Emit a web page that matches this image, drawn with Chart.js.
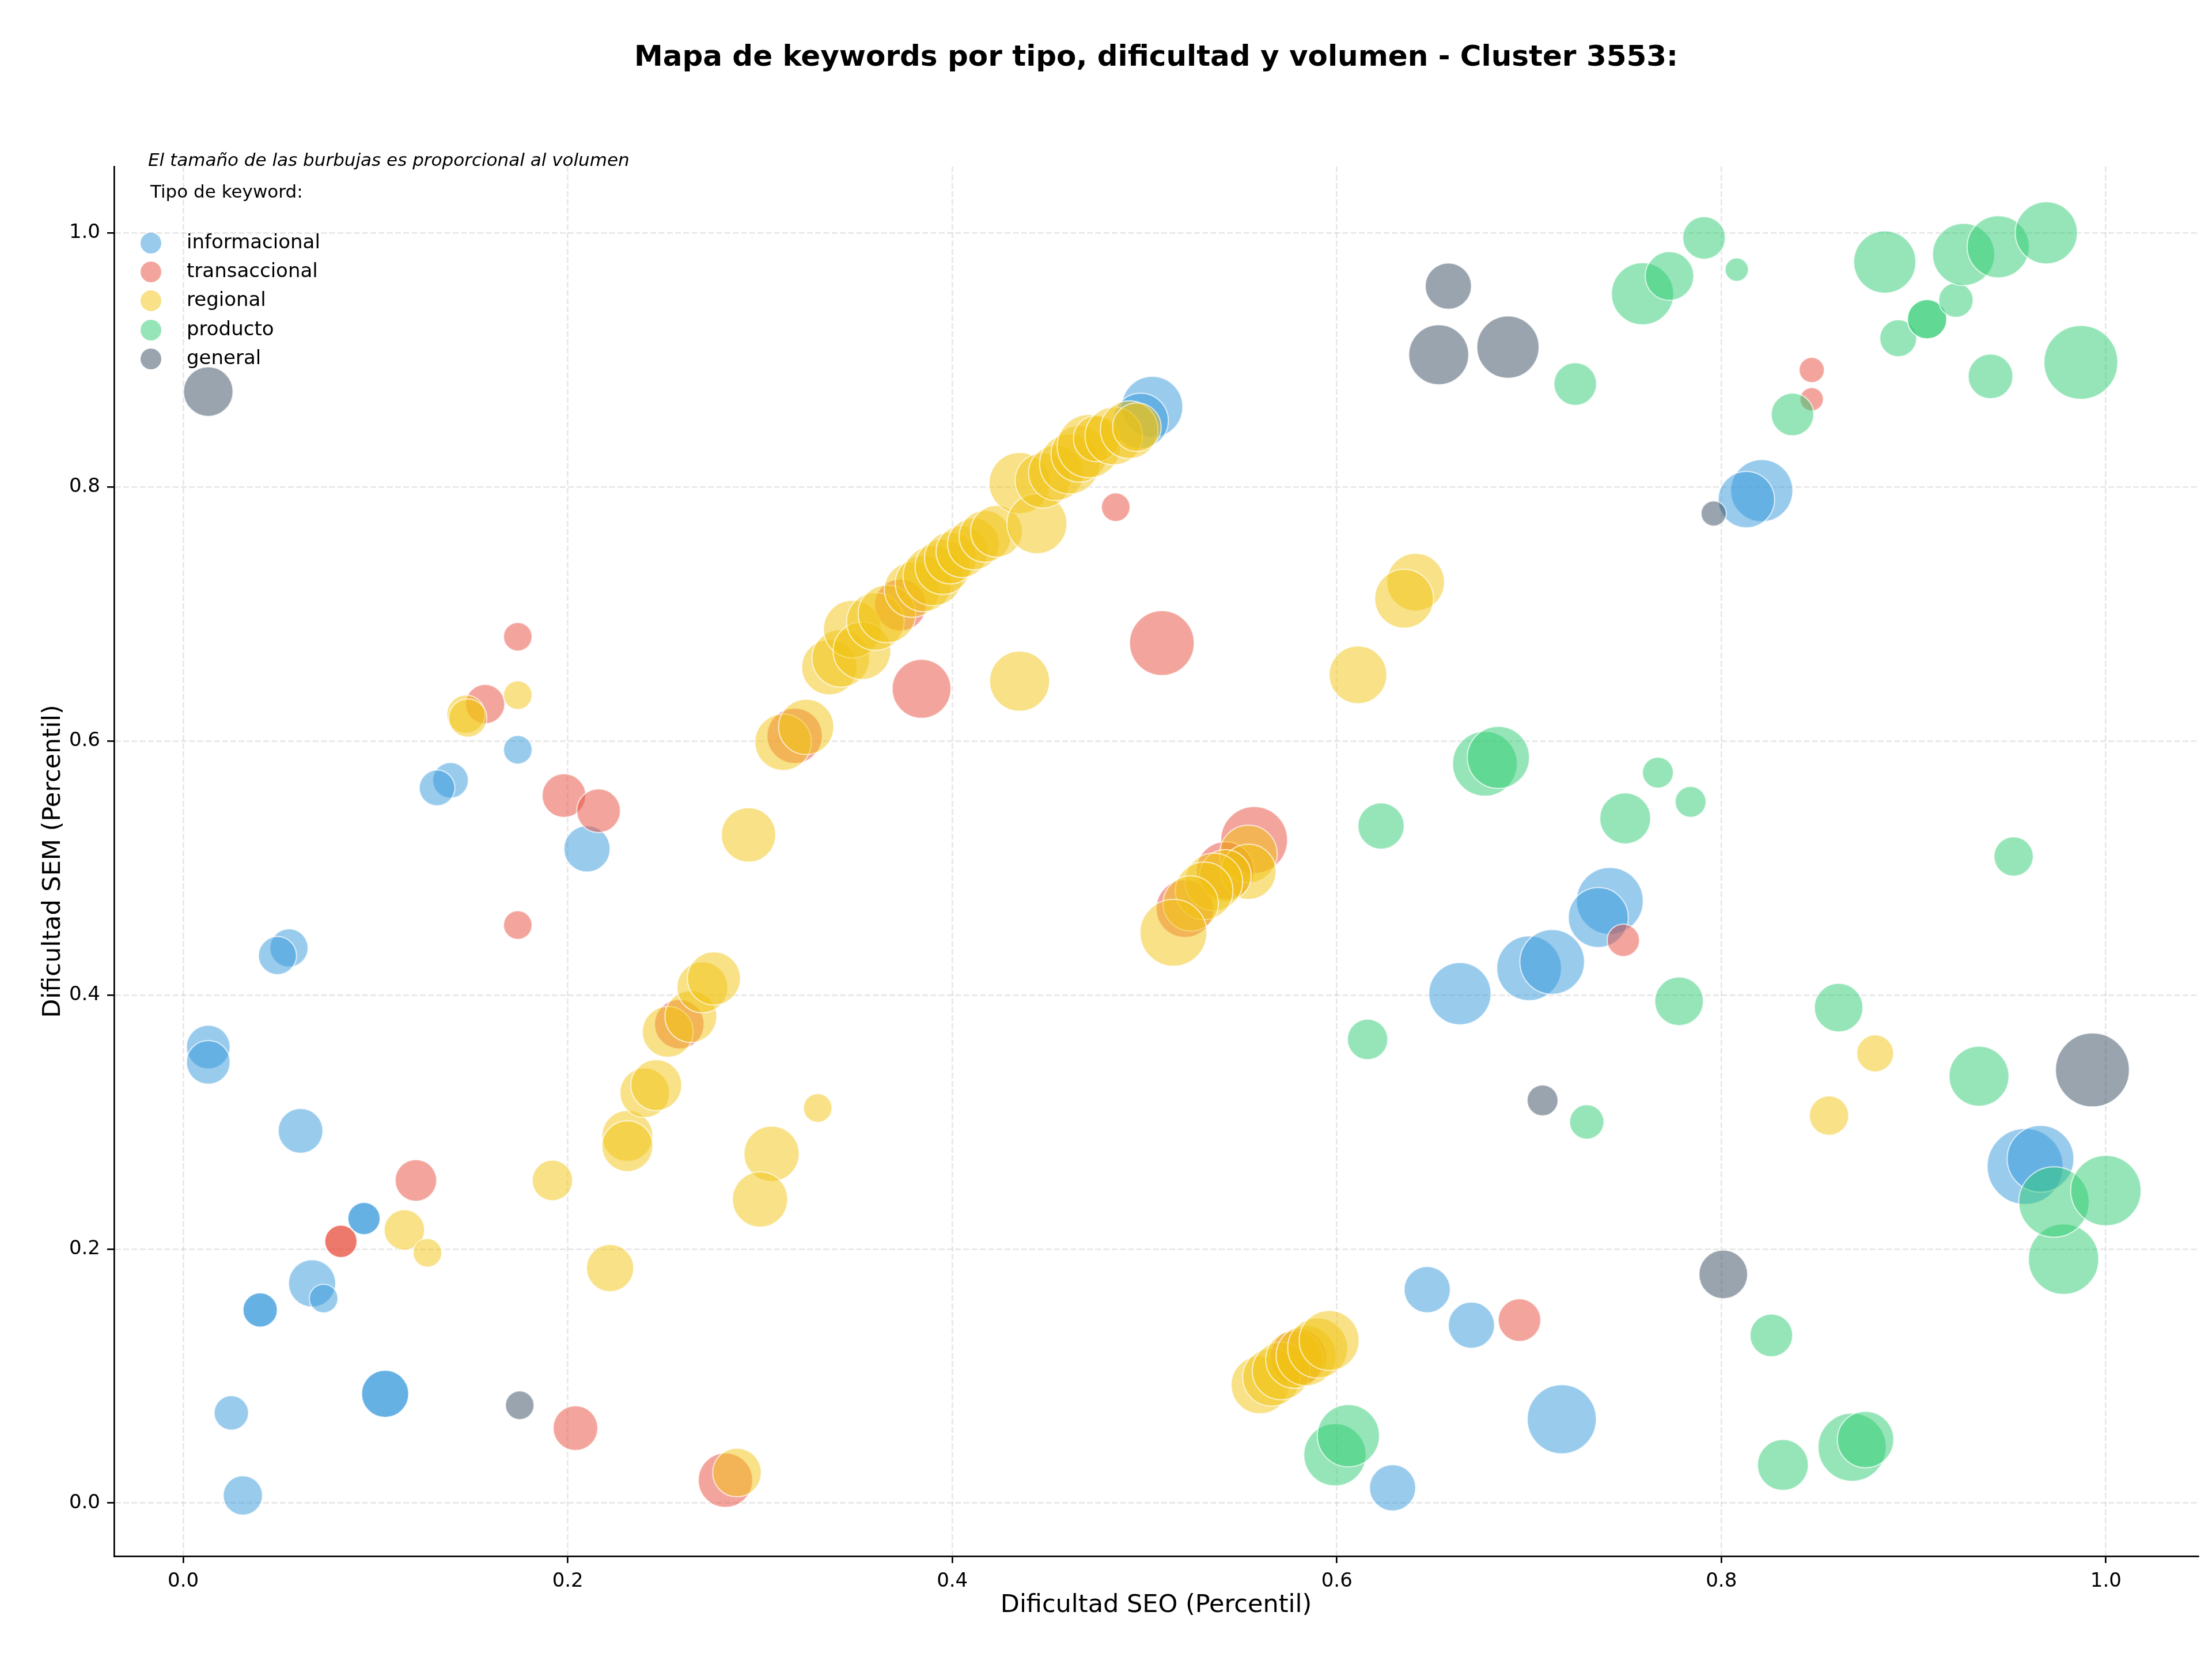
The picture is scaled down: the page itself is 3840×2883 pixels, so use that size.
<!DOCTYPE html>
<html>
<head>
<meta charset="utf-8">
<script src="https://cdn.jsdelivr.net/npm/chart.js@4.4.1/dist/chart.umd.min.js"></script>
<style>
  body { margin: 0; background: #ffffff; }
  #wrap { width: 3840px; height: 2883px; }
</style>
</head>
<body>
<div id="wrap"><canvas id="keywordMap" width="3840" height="2883"></canvas></div>
<script>
const chartTitle = "Mapa de keywords por tipo, dificultad y volumen - Cluster 3553:";
const noteText = "El tamaño de las burbujas es proporcional al volumen";
const legendTitle = "Tipo de keyword:";
const xAxisLabel = "Dificultad SEO (Percentil)";
const yAxisLabel = "Dificultad SEM (Percentil)";

const tipos = ["informacional", "transaccional", "regional", "producto", "general"];
const tipoColors = ["#3498db", "#e74c3c", "#f1c40f", "#2ecc71", "#34495e"];

const xTicks = [0, 0.2, 0.4, 0.6, 0.8, 1.0];
const yTicks = [0, 0.2, 0.4, 0.6, 0.8, 1.0];

// informacional
const infoSeo = [0.013, 0.013, 0.061, 0.094, 0.094, 0.067, 0.073, 0.040, 0.040, 0.025, 0.031, 0.105, 0.105,
    0.174, 0.139, 0.132, 0.210, 0.055, 0.049, 0.504, 0.498, 0.821, 0.813, 0.742, 0.736, 0.700, 0.712,
    0.664, 0.647, 0.670, 0.717, 0.629, 0.958, 0.966];
const infoSem = [0.359, 0.347, 0.293, 0.224, 0.224, 0.173, 0.161, 0.152, 0.152, 0.071, 0.006, 0.086, 0.086,
    0.593, 0.569, 0.563, 0.515, 0.437, 0.431, 0.863, 0.852, 0.797, 0.790, 0.474, 0.461, 0.421, 0.426,
    0.401, 0.168, 0.140, 0.066, 0.012, 0.265, 0.271];
const infoVol = [420, 420, 440, 230, 230, 490, 180, 260, 260, 260, 340, 490, 490,
    180, 280, 280, 470, 320, 320, 820, 670, 850, 700, 980, 790, 920, 920,
    850, 470, 470, 1050, 470, 1270, 980];

// transaccional
const transSeo = [0.174, 0.157, 0.198, 0.216, 0.174, 0.121, 0.082, 0.082, 0.204, 0.282, 0.258, 0.318,
    0.384, 0.373, 0.485, 0.509, 0.557, 0.542, 0.521, 0.580, 0.749, 0.695, 0.847, 0.847];
const transSem = [0.682, 0.629, 0.557, 0.545, 0.455, 0.254, 0.206, 0.206, 0.059, 0.018, 0.377, 0.604,
    0.641, 0.707, 0.784, 0.677, 0.522, 0.498, 0.468, 0.115, 0.443, 0.144, 0.892, 0.869];
const transVol = [180, 340, 420, 420, 180, 380, 230, 230, 440, 650, 540, 670,
    760, 590, 180, 920, 980, 730, 730, 700, 230, 400, 140, 120];

// regional
const regSeo = [0.147, 0.148, 0.174, 0.115, 0.127, 0.192, 0.222, 0.231, 0.231, 0.240, 0.246, 0.252,
    0.264, 0.270, 0.276, 0.294, 0.306, 0.300, 0.330, 0.288, 0.312, 0.324,
    0.336, 0.342, 0.348, 0.353, 0.360, 0.366, 0.379, 0.385, 0.390, 0.395, 0.399, 0.405, 0.411,
    0.417, 0.423, 0.435, 0.444, 0.447, 0.454, 0.461, 0.466, 0.471, 0.475, 0.484, 0.492, 0.496,
    0.435, 0.611, 0.641, 0.635,
    0.554, 0.554, 0.542, 0.536, 0.531, 0.524, 0.515,
    0.560, 0.566, 0.571, 0.578, 0.584, 0.590, 0.596, 0.856, 0.880];
const regSem = [0.621, 0.618, 0.636, 0.215, 0.197, 0.254, 0.185, 0.289, 0.281, 0.323, 0.329, 0.371,
    0.383, 0.406, 0.413, 0.526, 0.275, 0.239, 0.311, 0.024, 0.599, 0.611,
    0.658, 0.665, 0.688, 0.671, 0.694, 0.700, 0.719, 0.724, 0.730, 0.737, 0.744, 0.749, 0.755,
    0.761, 0.765, 0.803, 0.771, 0.805, 0.811, 0.818, 0.826, 0.832, 0.838, 0.840, 0.845, 0.847,
    0.647, 0.652, 0.725, 0.712,
    0.511, 0.497, 0.494, 0.489, 0.482, 0.472, 0.449,
    0.093, 0.099, 0.104, 0.113, 0.116, 0.122, 0.128, 0.305, 0.354];
const regVol = [320, 320, 180, 360, 180, 360, 490, 570, 570, 540, 570, 570,
    590, 570, 620, 650, 670, 670, 180, 520, 700, 670,
    670, 730, 730, 730, 730, 730, 670, 700, 790, 670, 590, 590, 590,
    590, 590, 820, 790, 670, 670, 790, 700, 880, 470, 730, 730, 520,
    790, 730, 730, 760,
    730, 670, 590, 730, 730, 670, 980,
    730, 730, 730, 730, 790, 790, 790, 340, 300];

// producto
const prodSeo = [0.791, 0.808, 0.759, 0.773, 0.724, 0.837, 0.885, 0.892, 0.907, 0.907, 0.922, 0.926,
    0.944, 0.969, 0.940, 0.987, 0.677, 0.684, 0.623, 0.767, 0.784, 0.750, 0.952, 0.616, 0.778,
    0.861, 0.730, 0.934, 0.826, 0.832, 0.868, 0.875, 0.599, 0.606, 0.978, 0.973, 1.000];
const prodSem = [0.996, 0.971, 0.952, 0.966, 0.881, 0.857, 0.977, 0.917, 0.932, 0.932, 0.947, 0.983,
    0.989, 1.000, 0.887, 0.898, 0.582, 0.587, 0.533, 0.575, 0.552, 0.539, 0.509, 0.365, 0.395,
    0.390, 0.300, 0.336, 0.132, 0.030, 0.044, 0.050, 0.038, 0.053, 0.192, 0.237, 0.246];
const prodVol = [400, 120, 850, 520, 400, 400, 850, 300, 340, 340, 260, 850,
    850, 850, 440, 1200, 920, 850, 470, 210, 210, 570, 340, 360, 520,
    520, 260, 790, 400, 570, 1020, 700, 850, 850, 1090, 1090, 1090];

// general
const genSeo = [0.013, 0.175, 0.658, 0.653, 0.689, 0.796, 0.707, 0.801, 0.993];
const genSem = [0.875, 0.077, 0.958, 0.904, 0.910, 0.779, 0.317, 0.180, 0.341];
const genVol = [540, 180, 470, 790, 850, 140, 210, 520, 1200];

const seriesSeo = [infoSeo, transSeo, regSeo, prodSeo, genSeo];
const seriesSem = [infoSem, transSem, regSem, prodSem, genSem];
const seriesVol = [infoVol, transVol, regVol, prodVol, genVol];

function hexToRgba(hex, alpha) {
    const n = parseInt(hex.slice(1), 16);
    return "rgba(" + (n >> 16 & 255) + "," + (n >> 8 & 255) + "," + (n & 255) + "," + alpha + ")";
}

// bubble area proportional to volume
function volToRadius(v) {
    return 1.85 * Math.sqrt(v);
}

const datasets = tipos.map(function (tipo, i) {
    return {
        label: tipo,
        data: seriesSeo[i].map(function (x, j) {
            return { x: x, y: seriesSem[i][j], r: volToRadius(seriesVol[i][j]) };
        }),
        backgroundColor: hexToRgba(tipoColors[i], 0.5),
        borderColor: "rgba(255,255,255,0.7)",
        borderWidth: 2,
        order: tipos.length - i
    };
});

const FONT = "'DejaVu Sans', 'Liberation Sans', sans-serif";

const textLayer = {
    id: "textLayer",
    afterDraw: function (chart) {
        const ctx = chart.ctx;
        const area = chart.chartArea;
        ctx.save();
        ctx.fillStyle = "#000000";

        ctx.font = "bold 50px " + FONT;
        ctx.textAlign = "center";
        ctx.textBaseline = "middle";
        ctx.fillText(chartTitle, (area.left + area.right) / 2, 101);

        ctx.font = "43px " + FONT;
        ctx.fillText(xAxisLabel, (area.left + area.right) / 2, 2787);
        ctx.save();
        ctx.translate(93, (area.top + area.bottom) / 2);
        ctx.rotate(-Math.PI / 2);
        ctx.fillText(yAxisLabel, 0, 0);
        ctx.restore();

        ctx.textAlign = "left";
        ctx.font = "italic 31px " + FONT;
        ctx.fillText(noteText, 257, 280);
        ctx.font = "31px " + FONT;
        ctx.fillText(legendTitle, 261, 335);

        const rows = [422, 472, 522, 573, 623];
        ctx.font = "34px " + FONT;
        tipos.forEach(function (tipo, i) {
            ctx.beginPath();
            ctx.arc(262, rows[i], 18, 0, Math.PI * 2);
            ctx.fillStyle = hexToRgba(tipoColors[i], 0.5);
            ctx.fill();
            ctx.fillStyle = "#000000";
            ctx.fillText(tipo, 324, rows[i]);
        });
        ctx.restore();
    }
};

function axisOptions(tickValues, fitFn) {
    return {
        type: "linear",
        z: 1,
        afterBuildTicks: function (scale) {
            scale.ticks = tickValues.map(function (v) { return { value: v }; });
        },
        afterFit: fitFn,
        ticks: {
            padding: 12,
            color: "#000000",
            font: { family: FONT, size: 34 },
            callback: function (value) { return Number(value).toFixed(1); }
        },
        grid: {
            color: "rgba(176,176,176,0.3)",
            lineWidth: 2.7,
            drawTicks: true,
            tickLength: 12,
            tickColor: "#000000",
            tickWidth: 2.7,
            tickBorderDash: []
        },
        border: {
            display: true,
            color: "#000000",
            width: 2.7,
            dash: [10, 4.3]
        },
        title: { display: false }
    };
}

const xAxis = axisOptions(xTicks, function (scale) {
    scale.height = 182;
    scale.paddingLeft = 0;
    scale.paddingRight = 0;
});
xAxis.min = -0.036;
xAxis.max = 1.048;
const yAxis = axisOptions(yTicks, function (scale) {
    scale.width = 198;
    scale.paddingTop = 0;
    scale.paddingBottom = 0;
});
yAxis.min = -0.0418;
yAxis.max = 1.0522;

new Chart(document.getElementById("keywordMap").getContext("2d"), {
    type: "bubble",
    data: { datasets: datasets },
    options: {
        responsive: false,
        devicePixelRatio: 1,
        animation: false,
        layout: {
            autoPadding: false,
            padding: { top: 289, right: 24, bottom: 0, left: 0 }
        },
        plugins: {
            legend: { display: false },
            title: { display: false },
            tooltip: { enabled: false }
        },
        scales: { x: xAxis, y: yAxis }
    },
    plugins: [textLayer]
});
</script>
</body>
</html>
